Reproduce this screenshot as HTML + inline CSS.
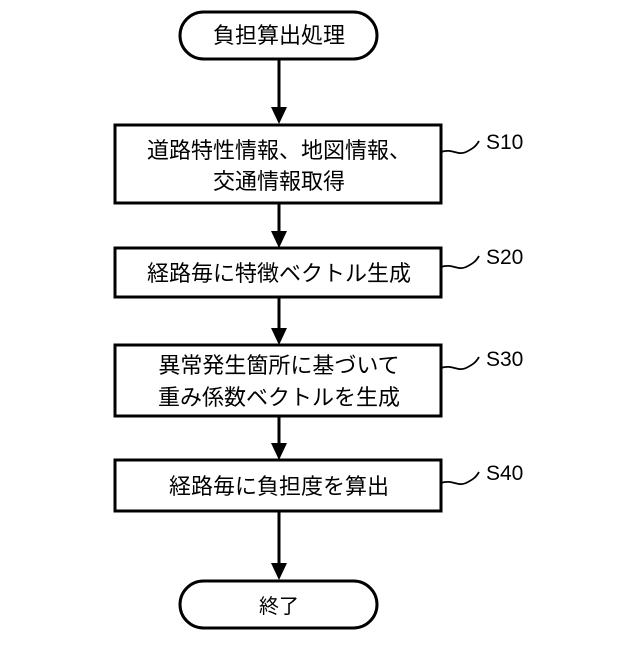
<!DOCTYPE html>
<html><head><meta charset="utf-8"><style>
body{margin:0;background:#fff;}
svg text{font-family:"Liberation Sans","Noto Sans CJK JP",sans-serif;fill:#000;}
</style></head><body>
<svg width="640" height="640" viewBox="0 0 640 640" xmlns="http://www.w3.org/2000/svg">
<g stroke="#000" stroke-width="3" fill="none">
<rect x="180" y="12" width="197" height="47" rx="23.5"/>
<rect x="115" y="125" width="326" height="78"/>
<rect x="115" y="248" width="326" height="49"/>
<rect x="115" y="345" width="326" height="71"/>
<rect x="115" y="460" width="326" height="51"/>
<rect x="180" y="581" width="197" height="47" rx="23.5"/>
<line x1="279" y1="59" x2="279" y2="108"/>
<line x1="279" y1="203" x2="279" y2="232"/>
<line x1="279" y1="297" x2="279" y2="329"/>
<line x1="279" y1="416" x2="279" y2="444"/>
<line x1="279" y1="511" x2="279" y2="564"/>
<g stroke-width="1.8">
<path d="M441 152 C452 148,458 156,466 152 S476 146,479 141"/>
<path d="M441 267 C452 263,458 271,466 267 S476 261,479 256"/>
<path d="M441 368 C452 364,458 372,466 368 S476 362,479 357"/>
<path d="M441 483 C452 479,458 487,466 483 S476 477,479 472"/>
</g>
</g>
<g fill="#000">
<polygon points="271,107 287,107 279,124"/>
<polygon points="271,231 287,231 279,248"/>
<polygon points="271,328 287,328 279,345"/>
<polygon points="271,443 287,443 279,460"/>
<polygon points="271,563 287,563 279,580"/>
</g>
<g font-size="22" text-anchor="middle">
<text x="279" y="43">負担算出処理</text>
<text x="279" y="158">道路特性情報、地図情報、</text>
<text x="279" y="189">交通情報取得</text>
<text x="279" y="281">経路毎に特徴ベクトル生成</text>
<text x="279" y="373">異常発生箇所に基づいて</text>
<text x="279" y="405">重み係数ベクトルを生成</text>
<text x="279" y="494">経路毎に負担度を算出</text>
<text x="279" y="613" font-size="20">終了</text>
</g>
<g font-size="21">
<text x="486" y="149">S10</text>
<text x="486" y="264">S20</text>
<text x="486" y="366">S30</text>
<text x="486" y="480">S40</text>
</g>
</svg>
</body></html>
